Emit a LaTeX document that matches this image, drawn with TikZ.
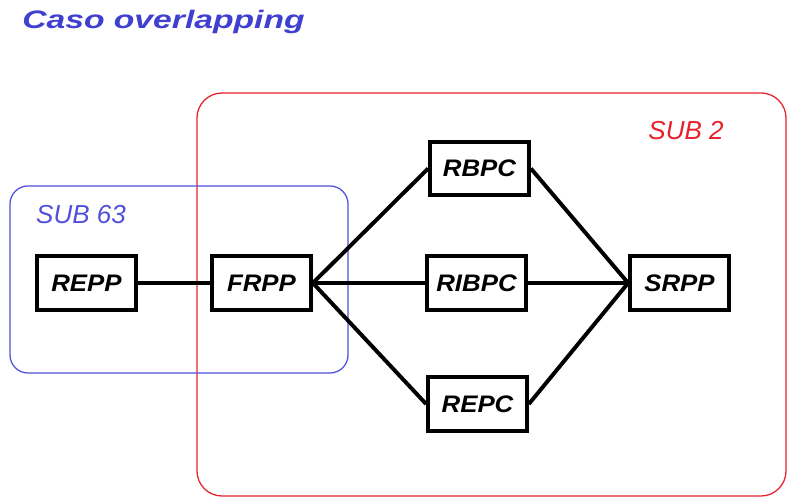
\documentclass[tikz,border=0pt]{standalone}
\usepackage{fontspec}
\setmainfont{Liberation Sans}
\usepackage{graphicx}
\definecolor{titblue}{RGB}{64,64,208}
\definecolor{subblue}{RGB}{80,80,220}
\definecolor{subred}{RGB}{232,32,44}
\tikzset{
  blk/.style={draw=black, line width=2.8pt, fill=white, minimum width=2.47cm, minimum height=1.33cm, inner sep=0pt, font=\fontsize{17}{17}\selectfont\bfseries\itshape},
  lnk/.style={line width=2.8pt},
}

\begin{document}
\begin{tikzpicture}[x=0.025cm, y=-0.025cm]
			\useasboundingbox (0,0) rectangle (796,501);
			% title
			\node[anchor=base west, inner sep=0pt, text=titblue, font=\fontsize{18}{18}\selectfont\bfseries\itshape] (tit) at (22,28) {\scalebox{1.33}[1]{Caso overlapping}};
			% subnets
			\draw[subred, line width=0.9pt, rounded corners=0.625cm] (197,93) rectangle (786,496);
			\draw[subblue, line width=0.9pt, rounded corners=0.45cm] (10,186) rectangle (348,373);
			\node[text=subred, font=\fontsize{18.5}{18.5}\selectfont\itshape] (sub2) at (686,131) {SUB 2};
			\node[text=subblue, font=\fontsize{18.5}{18.5}\selectfont\itshape] (sub63) at (81,215) {SUB 63};
			% routers
			\node[blk] (repp) at (86.5,283) {\scalebox{1.08}[1]{REPP}};
			\node[blk] (frpp) at (261.5,283) {\scalebox{1.08}[1]{FRPP}};
			\node[blk] (rbpc) at (479.5,168.5) {\scalebox{1.08}[1]{RBPC}};
			\node[blk] (ribpc) at (476.5,283) {\scalebox{1.08}[1]{RIBPC}};
			\node[blk] (repc) at (477.5,404) {\scalebox{1.08}[1]{REPC}};
			\node[blk] (srpp) at (679.5,283) {\scalebox{1.08}[1]{SRPP}};
			% links
			\draw[lnk] (repp.east) -- (frpp.west);
			\foreach \r in {rbpc,ribpc,repc} {
				\draw[lnk] (frpp.east) -- (\r.west);
				\draw[lnk] (\r.east) -- (srpp.west);
			}
		\end{tikzpicture}
\end{document}
